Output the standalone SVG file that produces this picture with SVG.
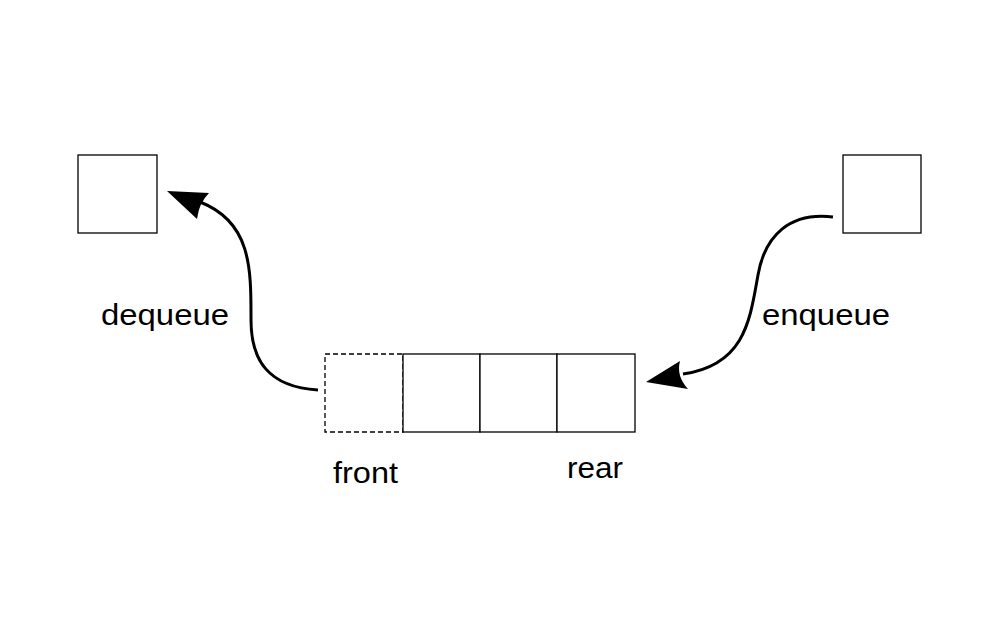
<svg xmlns="http://www.w3.org/2000/svg" width="1000" height="639" viewBox="0 0 1000 639">
<style>
.box{fill:#fff;stroke:#000;stroke-width:1.3}
.dash{fill:#fff;stroke:#000;stroke-width:1.3;stroke-dasharray:5 3}
.lbl{font-family:"Liberation Sans",Arial,sans-serif;font-size:30px;fill:#000}
.conn{fill:none;stroke:#000;stroke-width:3}
.head{fill:#000;stroke:none}
</style>
<rect width="1000" height="639" fill="#fff"/>
<g id="out-box"><rect class="box" x="78" y="155" width="79" height="78"/></g>
<g id="in-box"><rect class="box" x="843" y="155" width="78" height="78"/></g>
<g id="queue">
<rect class="dash" x="325" y="354" width="78" height="78"/>
<rect class="box" x="403" y="354" width="77" height="78"/>
<rect class="box" x="480" y="354" width="77" height="78"/>
<rect class="box" x="557" y="354" width="78" height="78"/>
</g>
<g id="labels">
<text class="lbl" x="101" y="325" textLength="128" lengthAdjust="spacingAndGlyphs">dequeue</text>
<text class="lbl" x="762" y="325" textLength="128" lengthAdjust="spacingAndGlyphs">enqueue</text>
<text class="lbl" x="333" y="483" textLength="65" lengthAdjust="spacingAndGlyphs">front</text>
<text class="lbl" x="567" y="478" textLength="56" lengthAdjust="spacingAndGlyphs">rear</text>
</g>
<g id="connectors">
<path class="conn" d="M318,390 C268,387 251,360 251,320 C251,270 252,222 200,202"/>
<path class="head" d="M167,191 L209,193 Q199,203 197,219 Z"/>
<path class="conn" d="M833,217 C790,212 765,235 758,275 C750,320 745,365 683,374"/>
<path class="head" d="M646,382 L680,361 Q676,376 688,389 Z"/>
</g>
</svg>
